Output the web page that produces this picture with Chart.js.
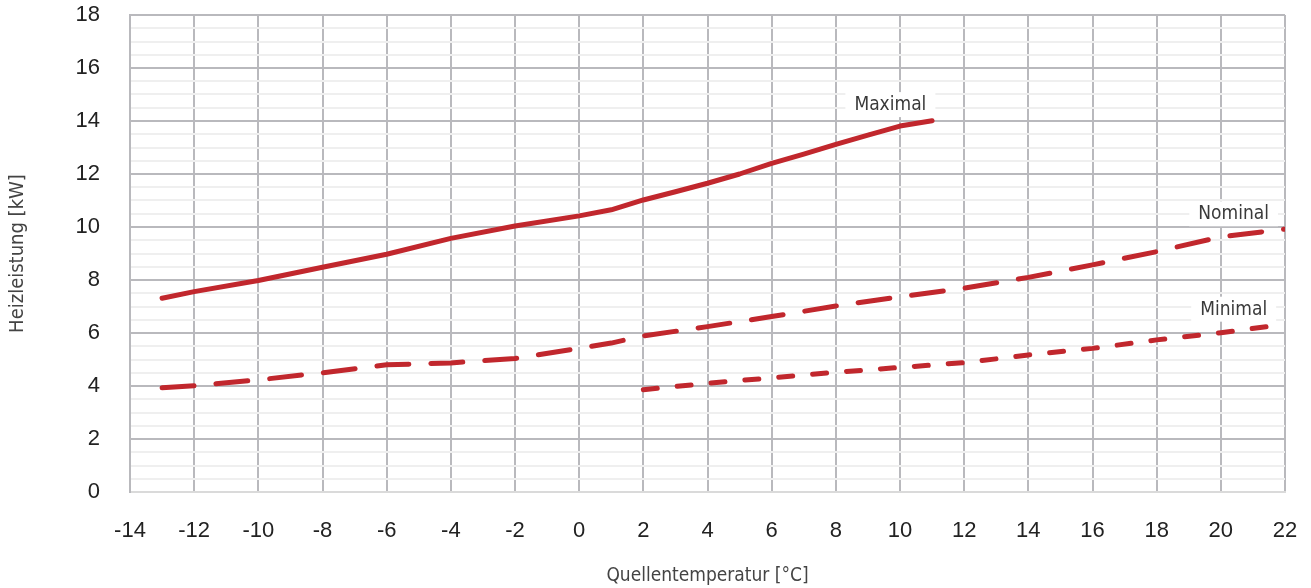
<!DOCTYPE html>
<html lang="de">
<head>
  <meta charset="UTF-8" />
  <title>Heizleistung</title>
  <script src="https://cdn.jsdelivr.net/npm/chart.js"></script>
  <style>
    html, body { margin: 0; padding: 0; background: #fff; }
    #wrap { width: 1311px; height: 588px; }
  </style>
</head>
<body>
  <div id="wrap"><canvas id="chart" width="1311" height="588"></canvas></div>
  <script>
    // Quellentemperatur [°C] / Heizleistung [kW]
    const maxX = [-13, -12, -10, -8, -6, -4, -2, 0, 1, 2, 3, 4, 5, 6, 7, 8, 9, 10, 11];
    const maxY = [7.31, 7.56, 7.98, 8.48, 8.97, 9.57, 10.04, 10.42, 10.65, 11.02, 11.33, 11.65, 12.0, 12.4, 12.75, 13.12, 13.47, 13.81, 14.01];

    const nomX = [-13, -12, -10, -8, -6, -4, -2, 0, 1, 2, 4, 6, 8, 10, 12, 14, 16, 18, 20, 22];
    const nomY = [3.93, 4.01, 4.23, 4.5, 4.8, 4.87, 5.04, 5.42, 5.62, 5.89, 6.24, 6.62, 7.02, 7.37, 7.69, 8.1, 8.57, 9.07, 9.63, 9.92];

    const minX = [2, 4, 6, 8, 10, 12, 14, 16, 18, 20, 22];
    const minY = [3.86, 4.1, 4.31, 4.52, 4.7, 4.88, 5.17, 5.42, 5.74, 6.01, 6.33];

    const seriesNames = ['Maximal', 'Nominal', 'Minimal'];
    // Beschriftung an Datenkoordinaten
    const nameX = [9.7, 20.4, 20.4];
    const nameY = [14.6, 10.48, 6.88];

    const red = '#c1272d';
    const gridMajor = '#b9b9bd';
    const gridMinor = '#efefef';

    const pts = (xs, ys) => xs.map((x, i) => ({ x: x, y: ys[i] }));

    // keine automatischen Randabstände für überstehende Beschriftungen
    const noPad = s => { s.paddingTop = 0; s.paddingBottom = 0; s.paddingLeft = 0; s.paddingRight = 0; };

    const seriesLabels = {
      id: 'seriesLabels',
      afterDatasetsDraw(chart) {
        const { ctx, scales } = chart;
        ctx.save();
        ctx.font = '19px "DejaVu Sans Condensed", "DejaVu Sans", sans-serif';
        ctx.textAlign = 'center';
        ctx.textBaseline = 'middle';
        seriesNames.forEach((name, i) => {
          const px = scales.x.getPixelForValue(nameX[i]);
          const py = scales.y.getPixelForValue(nameY[i]);
          const w = ctx.measureText(name).width + 18;
          ctx.fillStyle = '#fff';
          ctx.fillRect(px - w / 2, py - 13, w, 25);
          ctx.fillStyle = '#3a3a3a';
          ctx.fillText(name, px, py);
        });
        ctx.restore();
      }
    };

    const common = {
      borderColor: red,
      backgroundColor: red,
      borderWidth: 5,
      borderCapStyle: 'round',
      borderJoinStyle: 'round',
      pointRadius: 0,
      tension: 0,
      fill: false
    };

    const tickFont = { family: '"Liberation Sans", Arial, sans-serif', size: 22 };
    const titleFont = '"DejaVu Sans Condensed", "DejaVu Sans", sans-serif';

    new Chart(document.getElementById('chart'), {
      type: 'line',
      data: {
        datasets: [
          Object.assign({ label: seriesNames[0], data: pts(maxX, maxY) }, common),
          Object.assign({ label: seriesNames[1], data: pts(nomX, nomY), borderDash: [32, 22] }, common),
          Object.assign({ label: seriesNames[2], data: pts(minX, minY), borderDash: [14, 20] }, common)
        ]
      },
      options: {
        responsive: false,
        animation: false,
        layout: { padding: { left: 0, top: 15, right: 26, bottom: 0 } },
        plugins: {
          legend: { display: false },
          tooltip: { enabled: false }
        },
        scales: {
          x: {
            type: 'linear',
            min: -14,
            max: 22,
            afterFit: s => { s.height = 96; noPad(s); },
            ticks: {
              stepSize: 2,
              padding: 26,
              color: '#222',
              font: tickFont,
              maxRotation: 0
            },
            grid: { color: gridMajor, lineWidth: 2, drawTicks: false },
            border: { color: '#dadada', width: 2 },
            title: {
              display: true,
              text: 'Quellentemperatur [°C]',
              color: '#444',
              font: { family: titleFont, size: 19 },
              padding: { top: 0, bottom: 1 }
            }
          },
          y: {
            min: 0,
            max: 18,
            afterFit: s => { s.width = 130; noPad(s); },
            ticks: {
              stepSize: 0.5,
              autoSkip: false,
              maxTicksLimit: 100,
              padding: 30,
              color: '#222',
              font: tickFont,
              callback: v => (v % 2 === 0 ? String(v) : '')
            },
            grid: {
              drawTicks: false,
              lineWidth: 2,
              color: c => (c.tick && c.tick.value % 2 === 0 ? gridMajor : gridMinor)
            },
            border: { color: gridMajor, width: 2 },
            title: {
              display: true,
              text: 'Heizleistung [kW]',
              color: '#444',
              font: { family: titleFont, size: 20 },
              padding: { top: 6, bottom: 0 }
            }
          }
        }
      },
      plugins: [seriesLabels]
    });
  </script>
</body>
</html>
